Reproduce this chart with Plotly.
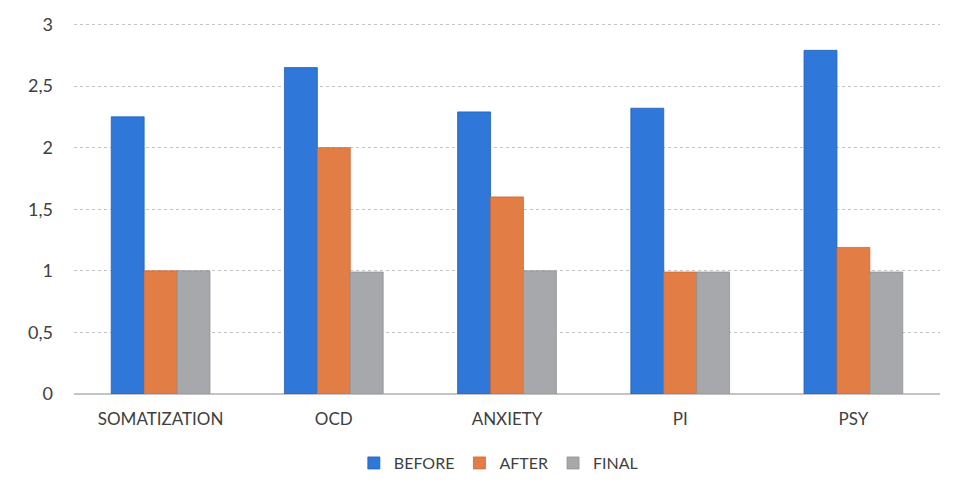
import plotly.graph_objects as go

categories = ["SOMATIZATION", "OCD", "ANXIETY", "PI", "PSY"]
before = [2.25, 2.65, 2.29, 2.32, 2.79]
after = [1.0, 2.0, 1.6, 0.99, 1.19]
final = [1.0, 0.99, 1.0, 0.99, 0.99]

y_ticks = [0, 0.5, 1, 1.5, 2, 2.5, 3]

series = [
    ("BEFORE", before, "#2f77d8", "#1f5fb5"),
    ("AFTER", after, "#e27d45", "#c9693a"),
    ("FINAL", final, "#a6a8ab", "#909296"),
]

fig = go.Figure()
for name, vals, color, edge in series:
    fig.add_trace(go.Bar(
        x=categories, y=vals, name=name,
        marker=dict(color=color, line=dict(color=edge, width=0.8)),
    ))

# page body has an 8px margin, so the figure is a bit smaller than the window
fig.update_layout(
    width=949, height=479,
    margin=dict(l=66, r=17, t=14, b=93, autoexpand=False),
    paper_bgcolor="white", plot_bgcolor="white",
    barmode="group", bargap=0.43, bargroupgap=0,
    separators=",.",
    font=dict(family="Lato, Open Sans, sans-serif", size=17, color="#404040"),
    legend=dict(orientation="h", x=0.49, xanchor="center", yref="container",
                y=0.05, yanchor="middle", font=dict(size=16), itemwidth=30,
                traceorder="normal"),
    showlegend=True,
)
fig.update_yaxes(
    range=[0, 3.02], tickvals=y_ticks, showgrid=True, gridcolor="#c4c4c8",
    griddash="dot", gridwidth=1, zeroline=True, zerolinecolor="#c4c4c8",
    showline=False, ticks="", ticklabelstandoff=20, tickfont=dict(size=18),
    automargin=False,
)
fig.update_xaxes(showline=False, ticks="", showgrid=False, ticklabelstandoff=13,
                 automargin=False)

fig.write_html("out.html")
